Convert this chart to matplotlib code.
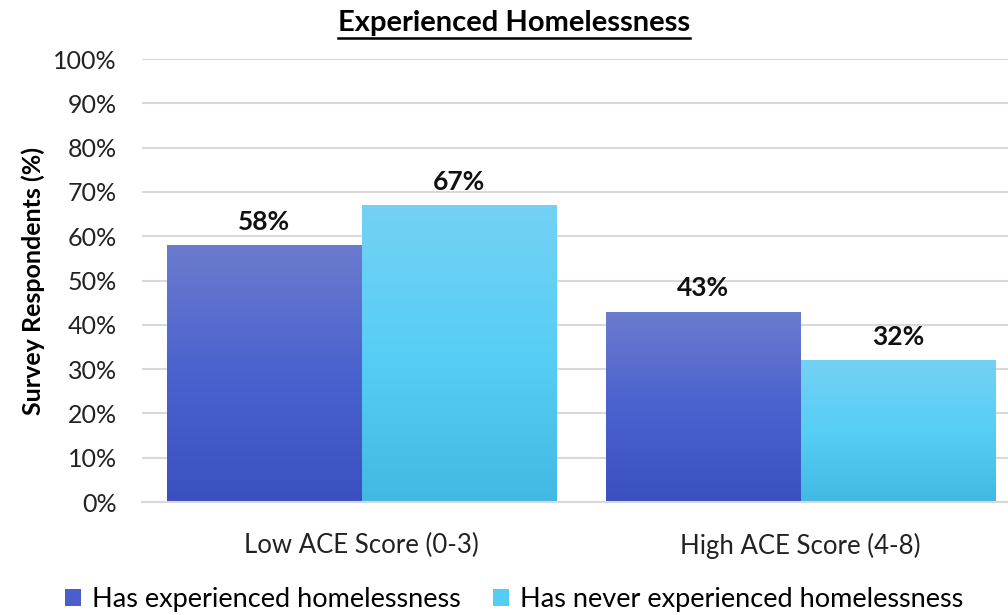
import matplotlib.pyplot as plt
import numpy as np
from matplotlib.colors import LinearSegmentedColormap
from matplotlib.patches import Patch

# Data
categories = ['Low ACE Score (0-3)', 'High ACE Score (4-8)']
series_names = ['Has experienced homelessness', 'Has never experienced homelessness']
experienced = [58, 43]
never_experienced = [67, 32]

plt.rcParams['font.family'] = ['Lato', 'DejaVu Sans']

fig = plt.figure(figsize=(10.08, 6.15), dpi=100)
ax = fig.add_axes([0.1409, 0.1837, 0.871, 0.7203])

x = np.arange(len(categories))
width = 0.444

# gradient colours (bottom -> top)
dark_grad = LinearSegmentedColormap.from_list('dark', ['#3A50BF', '#4A62CE', '#6B7BCF'])
light_grad = LinearSegmentedColormap.from_list('light', ['#42B9E2', '#57CEF5', '#74D1F4'])

bars1 = ax.bar(x - width / 2, experienced, width, color='none', zorder=3)
bars2 = ax.bar(x + width / 2, never_experienced, width, color='none', zorder=3)

grad = np.linspace(0, 1, 256).reshape(-1, 1)
for bars, cmap in [(bars1, dark_grad), (bars2, light_grad)]:
    for b in bars:
        x0, w, h = b.get_x(), b.get_width(), b.get_height()
        im = ax.imshow(grad, cmap=cmap, aspect='auto', origin='lower',
                       extent=[x0, x0 + w, 0, h], zorder=2)
        im.set_clip_path(b)

# value labels
for bars, vals in [(bars1, experienced), (bars2, never_experienced)]:
    for b, v in zip(bars, vals):
        ax.text(b.get_x() + b.get_width() / 2, v + 2.6, f'{v}%', ha='center', va='bottom',
                fontsize=19, fontweight='bold', color='#111111')

ax.set_xlim(-0.5, 1.5)
ax.set_ylim(0, 100)
ax.set_yticks(np.arange(0, 101, 10))
ax.set_yticklabels([f'{t}%' for t in range(0, 101, 10)], fontsize=18, color='#222222')
ax.set_xticks(x)
ax.set_xticklabels(categories, fontsize=18.5, color='#222222')
ax.tick_params(axis='both', length=0)
ax.tick_params(axis='y', pad=18)
ax.tick_params(axis='x', pad=22)

ax.grid(axis='y', color='#D9D9D9', linewidth=1.5, zorder=0)
ax.set_axisbelow(True)
for s in ['top', 'right', 'left']:
    ax.spines[s].set_visible(False)
ax.spines['bottom'].set_color('#D9D9D9')
ax.spines['bottom'].set_linewidth(1.5)

ax.set_ylabel('Survey Respondents (%)', fontsize=18, fontweight='bold', labelpad=6)

title = fig.text(0.51, 0.962, 'Experienced Homelessness', ha='center', va='center',
                 fontsize=21, fontweight='bold')

handles = [Patch(facecolor='#4A5FCB'), Patch(facecolor='#55CCF2')]
fig.legend(handles, series_names, loc='lower center', bbox_to_anchor=(0.51, -0.035), ncol=2,
           frameon=False, fontsize=19.5, handlelength=0.6, handleheight=0.6,
           handletextpad=0.4, columnspacing=1.2)

# underline the title using its rendered extent
fig.canvas.draw()
bb = title.get_window_extent().transformed(fig.transFigure.inverted())
fig.add_artist(plt.Line2D([bb.x0, bb.x1], [bb.y0 - 0.002, bb.y0 - 0.002],
                          color='black', linewidth=1.8))

fig.savefig('out.png', dpi=100)
